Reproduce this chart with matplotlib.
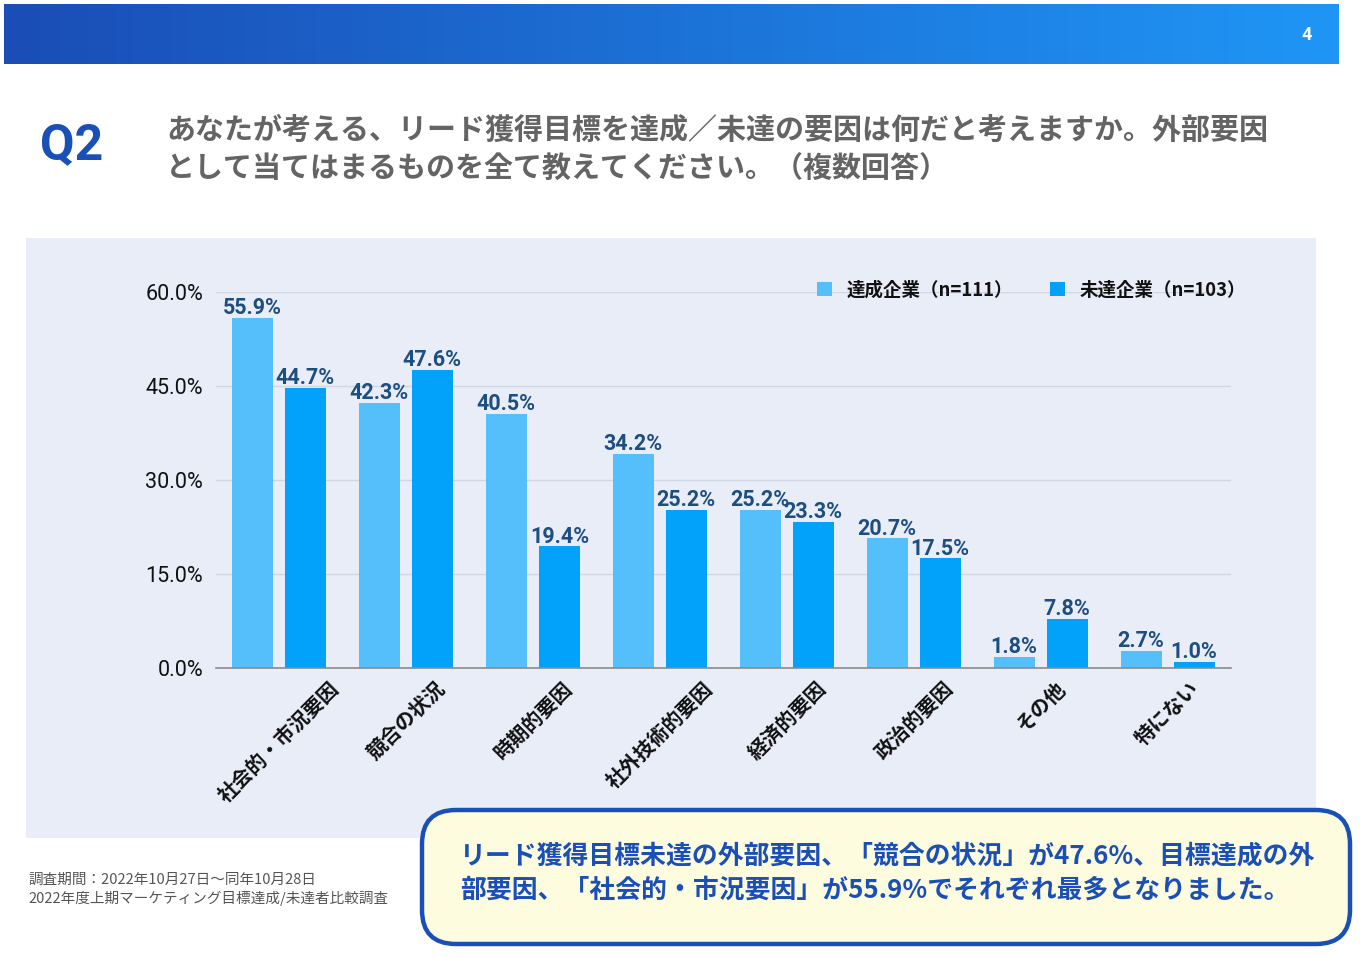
import matplotlib
matplotlib.use("Agg")
import matplotlib.pyplot as plt
import numpy as np
from matplotlib.patches import FancyBboxPatch, Rectangle, Patch
from matplotlib.colors import LinearSegmentedColormap

plt.rcParams['font.family'] = ['Noto Sans CJK JP', 'DejaVu Sans']

categories = ["社会的・市況要因", "競合の状況", "時期的要因", "社外技術的要因",
              "経済的要因", "政治的要因", "その他", "特にない"]
achieved = [55.9, 42.3, 40.5, 34.2, 25.2, 20.7, 1.8, 2.7]
not_achieved = [44.7, 47.6, 19.4, 25.2, 23.3, 17.5, 7.8, 1.0]
series_names = ["達成企業（n=111）", "未達企業（n=103）"]
yticks = [0, 15, 30, 45, 60]

c_light = "#55bffc"
c_dark = "#02a2fb"
c_val = "#1d4e82"
c_blue = "#1b4fb8"

W, H = 1360, 958
fig = plt.figure(figsize=(W / 100, H / 100), dpi=100)

# background layer in pixel coordinates
bg = fig.add_axes([0, 0, 1, 1], zorder=0)
bg.set_xlim(0, W)
bg.set_ylim(H, 0)
bg.axis('off')

# header gradient bar
cmap = LinearSegmentedColormap.from_list("hdr", ["#1a4db6", "#1f96f6"])
grad = np.linspace(0, 1, 256).reshape(1, -1)
bg.imshow(grad, cmap=cmap, extent=(4, 1339, 64, 4), aspect='auto', zorder=1)
bg.text(1307, 35, "4", color="white", fontsize=13, fontweight='bold',
        ha='center', va='center', family=['Roboto', 'DejaVu Sans'], zorder=2)

# Q2 and title
bg.text(40, 146, "Q2", color=c_blue, fontsize=36, fontweight='bold',
        ha='left', va='center', family=['Roboto', 'DejaVu Sans'])
bg.text(166, 130, "あなたが考える、リード獲得目標を達成／未達の要因は何だと考えますか。外部要因",
        color="#646464", fontsize=20.9, fontweight='bold', ha='left', va='center')
bg.text(166, 169, "として当てはまるものを全て教えてください。（複数回答）",
        color="#646464", fontsize=20.9, fontweight='bold', ha='left', va='center')

# chart panel
bg.add_patch(Rectangle((26, 238), 1290, 600, facecolor="#e9edf8", edgecolor='none', zorder=0))

# footnote
bg.text(28, 880, "調査期間：2022年10月27日〜同年10月28日", color="#555555",
        fontsize=10.5, ha='left', va='center')
bg.text(28, 898, "2022年度上期マーケティング目標達成/未達者比較調査", color="#555555",
        fontsize=10.5, ha='left', va='center')

# callout
bg.add_patch(FancyBboxPatch((422, 810), 928, 134,
                            boxstyle="round,pad=0,rounding_size=34",
                            facecolor="#fefcdf", edgecolor=c_blue, linewidth=3.2, zorder=3))
bg.text(460, 856, "リード獲得目標未達の外部要因、「競合の状況」が47.6%、目標達成の外",
        color=c_blue, fontsize=18.6, fontweight='bold', ha='left', va='center', zorder=4)
bg.text(460, 890, "部要因、「社会的・市況要因」が55.9%でそれぞれ最多となりました。",
        color=c_blue, fontsize=18.6, fontweight='bold', ha='left', va='center', zorder=4)

# chart axes
left = 215.5 / W
right = 1231 / W
bottom = 1 - 668 / H
top = 1 - 292 / H
ax = fig.add_axes([left, bottom, right - left, top - bottom], zorder=2)
ax.set_facecolor('none')

x = np.arange(len(categories))
bw = 0.323
off = 0.2087
b1 = ax.bar(x - off, achieved, bw, color=c_light, zorder=2)
b2 = ax.bar(x + off, not_achieved, bw, color=c_dark, zorder=2)

for bars, vals in ((b1, achieved), (b2, not_achieved)):
    for r, v in zip(bars, vals):
        ax.text(r.get_x() + r.get_width() / 2, v - 0.2, f"{v:.1f}%",
                ha='center', va='bottom', color=c_val, fontsize=15.5,
                fontweight='bold', family=['Roboto', 'DejaVu Sans'], zorder=3)

ax.set_xlim(-0.5, len(categories) - 0.5)
ax.set_ylim(0, 60)
ax.set_yticks(yticks)
ax.set_yticklabels([f"{t:.1f}%" for t in yticks], family=['Roboto', 'DejaVu Sans'],
                   fontsize=15.5, color="#111111")
ax.set_xticks(x)
ax.set_xticklabels(categories, rotation=45, fontsize=14.5, fontweight='bold', color="#111111")
ax.tick_params(axis='both', length=0)
ax.tick_params(axis='y', pad=9)
ax.tick_params(axis='x', pad=7)
ax.yaxis.grid(True, color="#d2d6e2", linewidth=1, zorder=0)
ax.set_axisbelow(True)
for s in ('top', 'right', 'left'):
    ax.spines[s].set_visible(False)
ax.spines['bottom'].set_color("#8a8a8a")
ax.spines['bottom'].set_linewidth(1.2)
ax.spines['bottom'].set_zorder(3)

handles = [Patch(facecolor=c_light, edgecolor='none'), Patch(facecolor=c_dark, edgecolor='none')]
leg = fig.legend(handles, series_names, loc='center right',
                 bbox_to_anchor=(1246 / W, 1 - 290 / H), ncol=2, frameon=False,
                 borderaxespad=0, borderpad=0,
                 fontsize=13.3, handlelength=0.8, handleheight=0.8, handletextpad=0.8,
                 columnspacing=2.0)
for t in leg.get_texts():
    t.set_fontweight('bold')
    t.set_color("#111111")

fig.savefig("out.png", dpi=100)
